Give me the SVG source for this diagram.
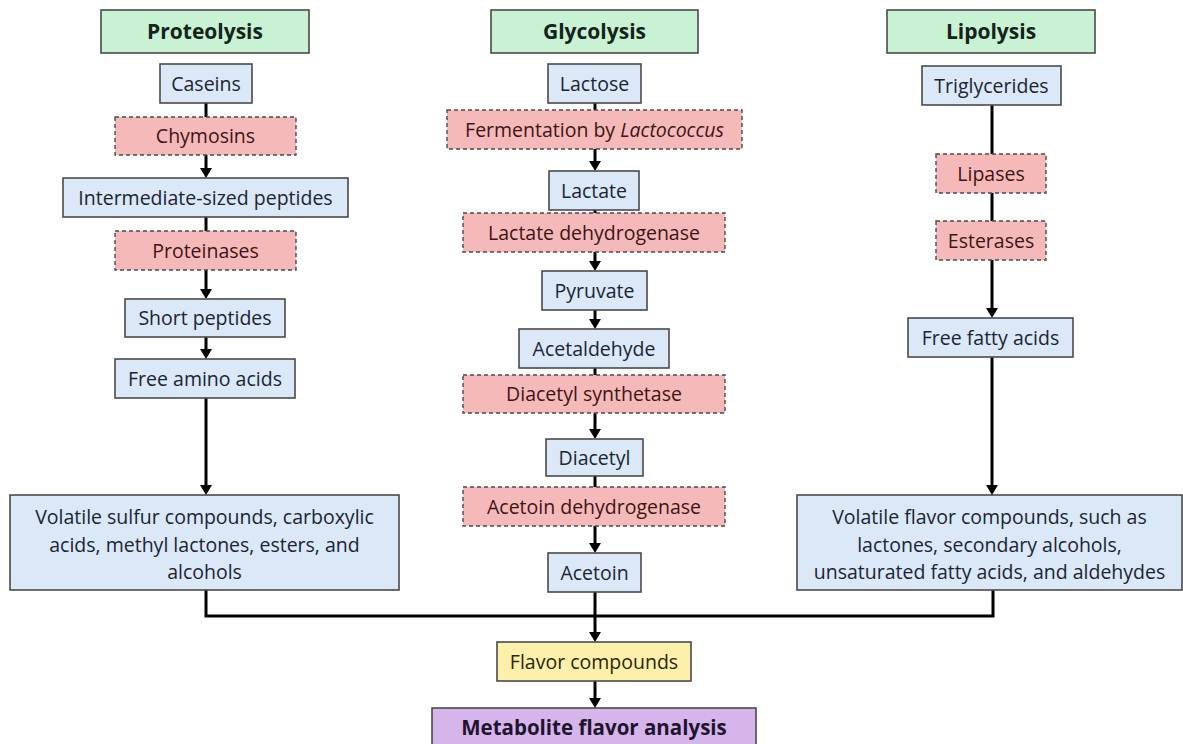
<svg xmlns="http://www.w3.org/2000/svg" width="1183" height="744" viewBox="0 0 1183 744">
<style>
  text { font-family: "Open Sans", "Liberation Sans", sans-serif; font-size: 19.5px; text-anchor: middle; }
  .hdr rect { fill: #c9f1d3; stroke: #4a4a4a; stroke-width: 1.6; }
  .hdr text { font-weight: bold; font-size: 21px; fill: #13241a; }
  .sub rect { fill: #dae8f7; stroke: #4a4a4a; stroke-width: 1.6; }
  .sub text { fill: #1c2433; }
  .enz rect { fill: #f6b9b9; stroke: #4a4a4a; stroke-width: 1.4; stroke-dasharray: 4 3; }
  .enz text { fill: #3c1515; }
  .fc rect { fill: #fdf0ab; stroke: #4a4a4a; stroke-width: 1.6; }
  .fc text { fill: #2a2410; }
  .mfa rect { fill: #d6b6ea; stroke: #4a4a4a; stroke-width: 1.6; }
  .mfa text { font-weight: bold; font-size: 20.5px; fill: #1f1430; }
  .conn path { fill: none; stroke: #000; stroke-width: 3; }
</style>
<defs>
  <marker id="ah" viewBox="0 0 10 12" refX="0" refY="6" markerWidth="10" markerHeight="12" markerUnits="userSpaceOnUse" orient="auto">
    <path d="M0,0 L10,6 L0,12 z" fill="#000"/>
  </marker>
</defs>
<rect width="1183" height="744" fill="#fff"/>

<g class="conn" id="connectors">
  <path d="M206,103 V117"/>
  <path d="M206,155 V168" marker-end="url(#ah)"/>
  <path d="M206,217 V231"/>
  <path d="M206,270 V289" marker-end="url(#ah)"/>
  <path d="M206,337 V349" marker-end="url(#ah)"/>
  <path d="M206,398 V485" marker-end="url(#ah)"/>
  <path d="M206,590 V616 H993 V590"/>
  <path d="M595,103 V110"/>
  <path d="M595,149 V161" marker-end="url(#ah)"/>
  <path d="M595,210 V213"/>
  <path d="M595,252 V261" marker-end="url(#ah)"/>
  <path d="M595,310 V319" marker-end="url(#ah)"/>
  <path d="M595,368 V375"/>
  <path d="M595,413 V429" marker-end="url(#ah)"/>
  <path d="M595,476 V487"/>
  <path d="M595,526 V543" marker-end="url(#ah)"/>
  <path d="M595,592 V632" marker-end="url(#ah)"/>
  <path d="M595,681 V698" marker-end="url(#ah)"/>
  <path d="M992,105 V154"/>
  <path d="M992,193 V221"/>
  <path d="M992,260 V308" marker-end="url(#ah)"/>
  <path d="M992,357 V485" marker-end="url(#ah)"/>
</g>

<g id="proteolysis" class="hdr"><rect x="101" y="10" width="208" height="43"/><text x="205" y="39">Proteolysis</text></g>
<g id="glycolysis" class="hdr"><rect x="491" y="10" width="207" height="43"/><text x="594.5" y="39">Glycolysis</text></g>
<g id="lipolysis" class="hdr"><rect x="887" y="10" width="208" height="43"/><text x="991" y="39">Lipolysis</text></g>

<g id="caseins" class="sub"><rect x="160" y="64" width="92" height="39"/><text x="206" y="90.5">Caseins</text></g>
<g id="chymosins" class="enz"><rect x="115" y="117" width="181" height="38"/><text x="205.5" y="143">Chymosins</text></g>
<g id="intermediate" class="sub"><rect x="63" y="178" width="285" height="39"/><text x="205.5" y="204.5">Intermediate-sized peptides</text></g>
<g id="proteinases" class="enz"><rect x="115" y="231" width="181" height="39"/><text x="205.5" y="257.5">Proteinases</text></g>
<g id="short-peptides" class="sub"><rect x="125" y="299" width="160" height="38"/><text x="205" y="325">Short peptides</text></g>
<g id="free-amino" class="sub"><rect x="115" y="359" width="180" height="39"/><text x="205" y="385.5">Free amino acids</text></g>
<g id="volatile-sulfur" class="sub"><rect x="10" y="495" width="389" height="95"/>
  <text x="204.5" y="524">Volatile sulfur compounds, carboxylic</text>
  <text x="204.5" y="551.5">acids, methyl lactones, esters, and</text>
  <text x="204.5" y="579">alcohols</text></g>

<g id="lactose" class="sub"><rect x="548" y="64" width="93" height="39"/><text x="594.5" y="90.5">Lactose</text></g>
<g id="fermentation" class="enz"><rect x="447" y="110" width="295" height="39"/><text x="594.5" y="136.5">Fermentation by <tspan font-style="italic">Lactococcus</tspan></text></g>
<g id="lactate" class="sub"><rect x="549" y="171" width="90" height="39"/><text x="594" y="197.5">Lactate</text></g>
<g id="ldh" class="enz"><rect x="463" y="213" width="262" height="39"/><text x="594" y="239.5">Lactate dehydrogenase</text></g>
<g id="pyruvate" class="sub"><rect x="542" y="271" width="105" height="39"/><text x="594.5" y="297.5">Pyruvate</text></g>
<g id="acetaldehyde" class="sub"><rect x="519" y="329" width="150" height="39"/><text x="594" y="355.5">Acetaldehyde</text></g>
<g id="diacetyl-synthetase" class="enz"><rect x="463" y="375" width="262" height="38"/><text x="594" y="401">Diacetyl synthetase</text></g>
<g id="diacetyl" class="sub"><rect x="546" y="439" width="97" height="37"/><text x="594.5" y="464.5">Diacetyl</text></g>
<g id="adh" class="enz"><rect x="463" y="487" width="262" height="39"/><text x="594" y="513.5">Acetoin dehydrogenase</text></g>
<g id="acetoin" class="sub"><rect x="548" y="553" width="93" height="39"/><text x="594.5" y="579.5">Acetoin</text></g>

<g id="triglycerides" class="sub"><rect x="922" y="66" width="139" height="39"/><text x="991.5" y="92.5">Triglycerides</text></g>
<g id="lipases" class="enz"><rect x="936" y="154" width="110" height="39"/><text x="991" y="180.5">Lipases</text></g>
<g id="esterases" class="enz"><rect x="936" y="221" width="110" height="39"/><text x="991" y="247.5">Esterases</text></g>
<g id="free-fatty" class="sub"><rect x="908" y="318" width="165" height="39"/><text x="990.5" y="344.5">Free fatty acids</text></g>
<g id="volatile-flavor" class="sub"><rect x="797" y="495" width="385" height="95"/>
  <text x="989.5" y="524">Volatile flavor compounds, such as</text>
  <text x="989.5" y="551.5">lactones, secondary alcohols,</text>
  <text x="989.5" y="579">unsaturated fatty acids, and aldehydes</text></g>

<g id="flavor-compounds" class="fc"><rect x="497" y="642" width="194" height="39"/><text x="594" y="668.5">Flavor compounds</text></g>
<g id="metabolite" class="mfa"><rect x="432" y="708" width="324" height="45"/><text x="594" y="734.5">Metabolite flavor analysis</text></g>
</svg>
